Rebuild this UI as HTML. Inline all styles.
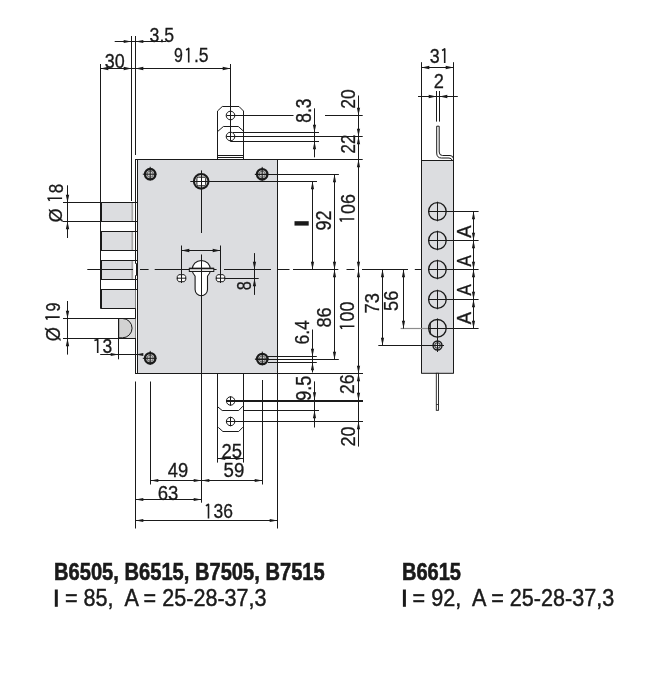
<!DOCTYPE html>
<html><head><meta charset="utf-8"><style>
html,body{margin:0;padding:0;background:#fff;}
svg{display:block;}
text{font-family:"Liberation Sans",sans-serif;fill:#1a1a1a;}
</style></head><body>
<svg width="647" height="677" viewBox="0 0 647 677">
<defs><filter id="gs" x="0" y="0" width="100%" height="100%"><feColorMatrix type="saturate" values="0"/></filter></defs>
<rect width="647" height="677" fill="#fff"/>
<rect x="135.5" y="159.5" width="142" height="214" fill="#fff" stroke="#1a1a1a" stroke-width="1"/>
<rect x="138" y="160" width="139" height="213" fill="#dcdde0"/>
<line x1="137.5" y1="159.5" x2="137.5" y2="373.5" stroke="#1a1a1a" stroke-width="1" />
<path d="M217.5,159 V111 L222.3,106.5 H239 L243.5,111 V159" fill="#fff" stroke="#1a1a1a" stroke-width="1"/>
<path d="M218,131.2 L223.4,126.5 H238.3 L243,130.7" fill="none" stroke="#1a1a1a" stroke-width="1"/>
<line x1="217.5" y1="155.5" x2="243.5" y2="155.5" stroke="#1a1a1a" stroke-width="1" />
<line x1="217.5" y1="157.5" x2="243.5" y2="157.5" stroke="#1a1a1a" stroke-width="1" />
<circle cx="230.5" cy="115.5" r="4.3" stroke="#1a1a1a" stroke-width="1" fill="none"/>
<circle cx="230.5" cy="136.5" r="4.3" stroke="#1a1a1a" stroke-width="1" fill="none"/>
<line x1="217.5" y1="373.5" x2="217.5" y2="462.6" stroke="#1a1a1a" stroke-width="1" />
<line x1="243.5" y1="373.5" x2="243.5" y2="462.6" stroke="#1a1a1a" stroke-width="1" />
<path d="M217.7,406.8 L222.2,410.5 H238.7 L242.9,406.2" fill="none" stroke="#1a1a1a" stroke-width="1"/>
<path d="M218.3,427.4 L222.9,431.5 H238.7 L242.9,427.2" fill="none" stroke="#1a1a1a" stroke-width="1"/>
<circle cx="230.6" cy="401" r="4.2" stroke="#1a1a1a" stroke-width="1" fill="none"/>
<circle cx="230.6" cy="421.5" r="4.2" stroke="#1a1a1a" stroke-width="1" fill="none"/>
<line x1="230.5" y1="396.3" x2="230.5" y2="405.6" stroke="#1a1a1a" stroke-width="1" />
<line x1="230.5" y1="416.8" x2="230.5" y2="426.2" stroke="#1a1a1a" stroke-width="1" />
<line x1="226" y1="401" x2="363" y2="401" stroke="#1a1a1a" stroke-width="2" />
<line x1="243.5" y1="410.5" x2="319" y2="410.5" stroke="#1a1a1a" stroke-width="1" />
<line x1="226" y1="421.5" x2="363" y2="421.5" stroke="#1a1a1a" stroke-width="1" />
<rect x="101" y="202.5" width="31.5" height="19.0" fill="#dcdde0"/>
<line x1="132.3" y1="203.0" x2="132.3" y2="221.0" stroke="#a8a8a8" stroke-width="1.8" />
<line x1="100.5" y1="202.5" x2="137.5" y2="202.5" stroke="#1a1a1a" stroke-width="1" />
<line x1="100.5" y1="221.5" x2="137.5" y2="221.5" stroke="#1a1a1a" stroke-width="1" />
<rect x="101" y="231.5" width="31.5" height="19.0" fill="#dcdde0"/>
<line x1="132.3" y1="232.0" x2="132.3" y2="250.0" stroke="#a8a8a8" stroke-width="1.8" />
<line x1="100.5" y1="231.5" x2="137.5" y2="231.5" stroke="#1a1a1a" stroke-width="1" />
<line x1="100.5" y1="250.5" x2="137.5" y2="250.5" stroke="#1a1a1a" stroke-width="1" />
<rect x="101" y="260.5" width="31.5" height="19.0" fill="#dcdde0"/>
<line x1="132.3" y1="261.0" x2="132.3" y2="279.0" stroke="#a8a8a8" stroke-width="1.8" />
<line x1="100.5" y1="260.5" x2="137.5" y2="260.5" stroke="#1a1a1a" stroke-width="1" />
<line x1="100.5" y1="279.5" x2="137.5" y2="279.5" stroke="#1a1a1a" stroke-width="1" />
<rect x="101" y="289.5" width="34.5" height="19" fill="#dcdde0"/>
<line x1="100.5" y1="289.5" x2="137.5" y2="289.5" stroke="#1a1a1a" stroke-width="1" />
<line x1="100.5" y1="308.5" x2="135.5" y2="308.5" stroke="#1a1a1a" stroke-width="1" />
<line x1="101" y1="202.5" x2="101" y2="221.5" stroke="#1a1a1a" stroke-width="2" />
<line x1="101" y1="231.5" x2="101" y2="250.5" stroke="#1a1a1a" stroke-width="2" />
<line x1="101" y1="260.5" x2="101" y2="279.5" stroke="#1a1a1a" stroke-width="2" />
<line x1="101" y1="289.5" x2="101" y2="308.5" stroke="#1a1a1a" stroke-width="2" />
<rect x="135" y="263.5" width="1.2" height="12" fill="#fff"/>
<path d="M135.5,263.5 H136.5 V275.5 H135.5" fill="none" stroke="#1a1a1a" stroke-width="1"/>
<rect x="119" y="318.5" width="16.5" height="19.5" fill="#dcdcdc" stroke="none"/>
<path d="M118.7,318.5 H122.5 A9.5,9.6 0 0 1 122.5,337.8 H118.7 Z" fill="#d2d2d2" stroke="#1a1a1a" stroke-width="1"/>
<line x1="100.5" y1="64" x2="100.5" y2="308" stroke="#1a1a1a" stroke-width="1" />
<line x1="131.5" y1="36" x2="131.5" y2="201" stroke="#1a1a1a" stroke-width="1" />
<line x1="135.5" y1="36" x2="135.5" y2="155" stroke="#1a1a1a" stroke-width="1" />
<line x1="114.7" y1="41.5" x2="166" y2="41.5" stroke="#1a1a1a" stroke-width="1" />
<polygon points="131.5,41.5 123.7,39.9 123.7,43.1" fill="#1a1a1a"/>
<polygon points="135.5,41.5 143.3,39.9 143.3,43.1" fill="#1a1a1a"/>
<line x1="100.5" y1="68.5" x2="230.5" y2="68.5" stroke="#1a1a1a" stroke-width="1" />
<polygon points="100.5,68.5 108.3,66.8 108.3,70.2" fill="#1a1a1a"/>
<polygon points="131.5,68.5 123.7,66.8 123.7,70.2" fill="#1a1a1a"/>
<polygon points="135.5,68.5 143.3,66.8 143.3,70.2" fill="#1a1a1a"/>
<polygon points="230.5,68.5 222.7,66.8 222.7,70.2" fill="#1a1a1a"/>
<line x1="230.5" y1="64" x2="230.5" y2="141.5" stroke="#1a1a1a" stroke-width="1" />
<path d="M186.10,50.00 L188.70,48.40 V62.60" fill="none" stroke="#1a1a1a" stroke-width="1.6" stroke-linejoin="round"/>
<line x1="226.5" y1="115.5" x2="293.5" y2="115.5" stroke="#1a1a1a" stroke-width="1" />
<line x1="325" y1="115.5" x2="362.7" y2="115.5" stroke="#1a1a1a" stroke-width="1" />
<line x1="233" y1="132.5" x2="319" y2="132.5" stroke="#1a1a1a" stroke-width="1" />
<line x1="226.3" y1="136.5" x2="362.7" y2="136.5" stroke="#1a1a1a" stroke-width="1" />
<line x1="230.5" y1="141.5" x2="319" y2="141.5" stroke="#1a1a1a" stroke-width="1" />
<line x1="277.5" y1="159.5" x2="362.7" y2="159.5" stroke="#1a1a1a" stroke-width="1" />
<line x1="314.5" y1="108.3" x2="314.5" y2="157.3" stroke="#1a1a1a" stroke-width="1" />
<polygon points="314.5,132.5 312.9,124.7 316.1,124.7" fill="#1a1a1a"/>
<polygon points="314.5,141.5 312.9,149.3 316.1,149.3" fill="#1a1a1a"/>
<line x1="358.5" y1="95.5" x2="358.5" y2="446.6" stroke="#1a1a1a" stroke-width="1" />
<polygon points="358.5,115.5 356.9,107.7 360.1,107.7" fill="#1a1a1a"/>
<polygon points="358.5,136.5 356.9,128.7 360.1,128.7" fill="#1a1a1a"/>
<polygon points="358.5,136.5 356.9,144.3 360.1,144.3" fill="#1a1a1a"/>
<polygon points="358.5,159.5 356.9,167.3 360.1,167.3" fill="#1a1a1a"/>
<circle cx="150.2" cy="174.2" r="5.2" stroke="#1a1a1a" stroke-width="2.3" fill="#cfcfcf"/>
<circle cx="150.2" cy="174.2" r="3.1000000000000005" stroke="#555" stroke-width="0.8" fill="none"/>
<line x1="142.79999999999998" y1="174.2" x2="156.6" y2="174.2" stroke="#1a1a1a" stroke-width="1" />
<line x1="150.2" y1="166.79999999999998" x2="150.2" y2="180.6" stroke="#1a1a1a" stroke-width="1" />
<circle cx="262.2" cy="174.3" r="5.2" stroke="#1a1a1a" stroke-width="2.3" fill="#cfcfcf"/>
<circle cx="262.2" cy="174.3" r="3.1000000000000005" stroke="#555" stroke-width="0.8" fill="none"/>
<line x1="254.79999999999998" y1="174.3" x2="268.59999999999997" y2="174.3" stroke="#1a1a1a" stroke-width="1" />
<line x1="262.2" y1="166.9" x2="262.2" y2="180.70000000000002" stroke="#1a1a1a" stroke-width="1" />
<circle cx="150.2" cy="358.3" r="5.2" stroke="#1a1a1a" stroke-width="2.3" fill="#cfcfcf"/>
<circle cx="150.2" cy="358.3" r="3.1000000000000005" stroke="#555" stroke-width="0.8" fill="none"/>
<line x1="142.79999999999998" y1="358.3" x2="156.6" y2="358.3" stroke="#1a1a1a" stroke-width="1" />
<line x1="150.2" y1="350.90000000000003" x2="150.2" y2="364.7" stroke="#1a1a1a" stroke-width="1" />
<circle cx="262.3" cy="359" r="5.2" stroke="#1a1a1a" stroke-width="2.3" fill="#cfcfcf"/>
<circle cx="262.3" cy="359" r="3.1000000000000005" stroke="#555" stroke-width="0.8" fill="none"/>
<line x1="254.9" y1="359" x2="268.7" y2="359" stroke="#1a1a1a" stroke-width="1" />
<line x1="262.3" y1="351.6" x2="262.3" y2="365.4" stroke="#1a1a1a" stroke-width="1" />
<circle cx="201.2" cy="181.3" r="7.3" stroke="#1a1a1a" stroke-width="2.1" fill="#e6e6e6"/>
<rect x="196.9" y="177.2" width="8.8" height="8.6" rx="1.5" fill="#fff" stroke="#1a1a1a" stroke-width="1"/>
<line x1="201.5" y1="170.4" x2="201.5" y2="233" stroke="#1a1a1a" stroke-width="1" />
<line x1="201.5" y1="254.7" x2="201.5" y2="502.7" stroke="#1a1a1a" stroke-width="1" />
<line x1="190.3" y1="181.5" x2="317" y2="181.5" stroke="#1a1a1a" stroke-width="1" />
<line x1="255" y1="174.5" x2="338.9" y2="174.5" stroke="#1a1a1a" stroke-width="1" />
<line x1="312.5" y1="181.5" x2="312.5" y2="269.5" stroke="#1a1a1a" stroke-width="1" />
<polygon points="312.5,181.5 310.9,189.3 314.1,189.3" fill="#1a1a1a"/>
<polygon points="312.5,269.5 310.9,261.7 314.1,261.7" fill="#1a1a1a"/>
<line x1="334.5" y1="174.5" x2="334.5" y2="359.5" stroke="#1a1a1a" stroke-width="1" />
<polygon points="334.5,174.5 332.9,182.3 336.1,182.3" fill="#1a1a1a"/>
<polygon points="334.5,269.5 332.9,261.7 336.1,261.7" fill="#1a1a1a"/>
<polygon points="334.5,269.5 332.9,277.3 336.1,277.3" fill="#1a1a1a"/>
<polygon points="334.5,359.5 332.9,351.7 336.1,351.7" fill="#1a1a1a"/>
<polygon points="358.5,269.5 356.9,261.7 360.1,261.7" fill="#1a1a1a"/>
<polygon points="358.5,269.5 356.9,277.3 360.1,277.3" fill="#1a1a1a"/>
<polygon points="358.5,373.5 356.9,365.7 360.1,365.7" fill="#1a1a1a"/>
<polygon points="358.5,373.5 356.9,381.3 360.1,381.3" fill="#1a1a1a"/>
<polygon points="358.5,400.5 356.9,392.7 360.1,392.7" fill="#1a1a1a"/>
<polygon points="358.5,421.5 356.9,429.3 360.1,429.3" fill="#1a1a1a"/>
<rect x="294.5" y="221.2" width="14.2" height="4.4" fill="#1a1a1a"/>
<path d="M341.70,221.60 L340.10,219.00 H354.30" fill="none" stroke="#1a1a1a" stroke-width="1.6" stroke-linejoin="round"/>
<path d="M342.00,328.90 L340.40,326.30 H354.40" fill="none" stroke="#1a1a1a" stroke-width="1.6" stroke-linejoin="round"/>
<line x1="312.5" y1="329.5" x2="312.5" y2="372.5" stroke="#1a1a1a" stroke-width="1" />
<polygon points="312.5,356.5 310.9,348.7 314.1,348.7" fill="#1a1a1a"/>
<polygon points="312.5,362.5 310.9,370.3 314.1,370.3" fill="#1a1a1a"/>
<line x1="267.8" y1="356.5" x2="316.8" y2="356.5" stroke="#1a1a1a" stroke-width="1" />
<line x1="255.3" y1="359.5" x2="338.8" y2="359.5" stroke="#1a1a1a" stroke-width="1" />
<line x1="267.8" y1="362.5" x2="316.8" y2="362.5" stroke="#1a1a1a" stroke-width="1" />
<line x1="277.5" y1="373.5" x2="363" y2="373.5" stroke="#1a1a1a" stroke-width="1" />
<line x1="314.5" y1="381.4" x2="314.5" y2="427.5" stroke="#1a1a1a" stroke-width="1" />
<polygon points="314.5,400.0 312.9,392.2 316.1,392.2" fill="#1a1a1a"/>
<polygon points="314.5,410.5 312.9,418.3 316.1,418.3" fill="#1a1a1a"/>
<line x1="87.3" y1="269.5" x2="133" y2="269.5" stroke="#1a1a1a" stroke-width="1" />
<line x1="140" y1="269.5" x2="148.6" y2="269.5" stroke="#1a1a1a" stroke-width="1" />
<line x1="154.7" y1="269.5" x2="216.6" y2="269.5" stroke="#1a1a1a" stroke-width="1" />
<line x1="224" y1="269.5" x2="271" y2="269.5" stroke="#1a1a1a" stroke-width="1" />
<line x1="278" y1="269.5" x2="289.5" y2="269.5" stroke="#1a1a1a" stroke-width="1" />
<line x1="293" y1="269.5" x2="338.3" y2="269.5" stroke="#1a1a1a" stroke-width="1" />
<line x1="346.5" y1="269.5" x2="354.6" y2="269.5" stroke="#1a1a1a" stroke-width="1" />
<line x1="362" y1="269.5" x2="407.5" y2="269.5" stroke="#1a1a1a" stroke-width="1" />
<line x1="414.8" y1="269.5" x2="423.8" y2="269.5" stroke="#1a1a1a" stroke-width="1" />
<path d="M195.1,276.2 A9.1,9.1 0 1 1 207.5,276.2 V289.6 A6.2,6.2 0 0 1 195.1,289.6 Z" fill="#fff" stroke="#1a1a1a" stroke-width="1.1"/>
<rect x="189.3" y="268.3" width="24.5" height="3.2" fill="#e8e8e8" stroke="#1a1a1a" stroke-width="1"/>
<line x1="189.3" y1="268.5" x2="213.8" y2="268.5" stroke="#1a1a1a" stroke-width="1.4" />
<line x1="201.5" y1="254.7" x2="201.5" y2="296" stroke="#1a1a1a" stroke-width="1" />
<line x1="181.5" y1="250.5" x2="220.5" y2="250.5" stroke="#1a1a1a" stroke-width="1" />
<polygon points="181.5,250.5 189.3,248.8 189.3,252.2" fill="#1a1a1a"/>
<polygon points="220.5,250.5 212.7,248.8 212.7,252.2" fill="#1a1a1a"/>
<path d="M178.7,274.7 H184.3 L185.7,276.5 V279.9 L184.3,281.7 H178.7 L177.3,279.9 V276.5 Z" fill="#fff" stroke="#1a1a1a" stroke-width="1"/>
<line x1="176.7" y1="278.2" x2="186.3" y2="278.2" stroke="#1a1a1a" stroke-width="1" />
<line x1="181.5" y1="245.5" x2="181.5" y2="283" stroke="#1a1a1a" stroke-width="1" />
<path d="M217.7,274.7 H223.3 L224.7,276.5 V279.9 L223.3,281.7 H217.7 L216.3,279.9 V276.5 Z" fill="#fff" stroke="#1a1a1a" stroke-width="1"/>
<line x1="215.7" y1="278.2" x2="225.3" y2="278.2" stroke="#1a1a1a" stroke-width="1" />
<line x1="220.5" y1="245.5" x2="220.5" y2="283" stroke="#1a1a1a" stroke-width="1" />
<line x1="224.9" y1="278.5" x2="258.7" y2="278.5" stroke="#1a1a1a" stroke-width="1" />
<line x1="254.5" y1="253.1" x2="254.5" y2="294.9" stroke="#1a1a1a" stroke-width="1" />
<polygon points="254.5,269.5 252.8,261.7 256.1,261.7" fill="#1a1a1a"/>
<polygon points="254.5,278.5 252.8,286.3 256.1,286.3" fill="#1a1a1a"/>
<line x1="135.5" y1="381.5" x2="135.5" y2="528.5" stroke="#1a1a1a" stroke-width="1" />
<line x1="150.5" y1="381.5" x2="150.5" y2="484.5" stroke="#1a1a1a" stroke-width="1" />
<line x1="262.5" y1="380" x2="262.5" y2="484.5" stroke="#1a1a1a" stroke-width="1" />
<line x1="277.5" y1="373.5" x2="277.5" y2="528.5" stroke="#1a1a1a" stroke-width="1" />
<line x1="150.5" y1="480.5" x2="262.5" y2="480.5" stroke="#1a1a1a" stroke-width="1" />
<polygon points="150.5,480.5 158.3,478.9 158.3,482.1" fill="#1a1a1a"/>
<polygon points="201.5,480.5 193.7,478.9 193.7,482.1" fill="#1a1a1a"/>
<polygon points="201.5,480.5 209.3,478.9 209.3,482.1" fill="#1a1a1a"/>
<polygon points="262.5,480.5 254.7,478.9 254.7,482.1" fill="#1a1a1a"/>
<line x1="135.5" y1="499.5" x2="201.5" y2="499.5" stroke="#1a1a1a" stroke-width="1" />
<polygon points="135.5,499.5 143.3,497.9 143.3,501.1" fill="#1a1a1a"/>
<polygon points="201.5,499.5 193.7,497.9 193.7,501.1" fill="#1a1a1a"/>
<line x1="135.5" y1="520.5" x2="277.5" y2="520.5" stroke="#1a1a1a" stroke-width="1" />
<polygon points="135.5,520.5 143.3,518.9 143.3,522.1" fill="#1a1a1a"/>
<polygon points="277.5,520.5 269.7,518.9 269.7,522.1" fill="#1a1a1a"/>
<line x1="217.5" y1="458.5" x2="243.5" y2="458.5" stroke="#1a1a1a" stroke-width="1" />
<polygon points="217.5,458.5 225.3,456.9 225.3,460.1" fill="#1a1a1a"/>
<polygon points="243.5,458.5 235.7,456.9 235.7,460.1" fill="#1a1a1a"/>
<path d="M205.90,505.90 L208.50,504.30 V518.50" fill="none" stroke="#1a1a1a" stroke-width="1.6" stroke-linejoin="round"/>
<line x1="63" y1="202.5" x2="100.5" y2="202.5" stroke="#1a1a1a" stroke-width="1" />
<line x1="63" y1="221.5" x2="100.5" y2="221.5" stroke="#1a1a1a" stroke-width="1" />
<line x1="67.5" y1="185.3" x2="67.5" y2="238" stroke="#1a1a1a" stroke-width="1" />
<polygon points="67.5,202.5 65.8,194.7 69.2,194.7" fill="#1a1a1a"/>
<polygon points="67.5,221.5 65.8,229.3 69.2,229.3" fill="#1a1a1a"/>
<path d="M49.60,200.80 L48.00,198.20 H62.10" fill="none" stroke="#1a1a1a" stroke-width="1.6" stroke-linejoin="round"/>
<line x1="63" y1="318.5" x2="135.5" y2="318.5" stroke="#1a1a1a" stroke-width="1" />
<line x1="63" y1="338.5" x2="135.5" y2="338.5" stroke="#1a1a1a" stroke-width="1" />
<line x1="67.5" y1="301" x2="67.5" y2="354.6" stroke="#1a1a1a" stroke-width="1" />
<polygon points="67.5,318.5 65.8,310.7 69.2,310.7" fill="#1a1a1a"/>
<polygon points="67.5,338.5 65.8,346.3 69.2,346.3" fill="#1a1a1a"/>
<path d="M47.40,319.70 L45.80,317.10 H59.70" fill="none" stroke="#1a1a1a" stroke-width="1.6" stroke-linejoin="round"/>
<line x1="118.5" y1="318.5" x2="118.5" y2="359.3" stroke="#1a1a1a" stroke-width="1" />
<line x1="100.2" y1="354.5" x2="140.7" y2="354.5" stroke="#1a1a1a" stroke-width="1" />
<polygon points="118.5,354.5 110.7,352.9 110.7,356.1" fill="#1a1a1a"/>
<polygon points="135.5,354.5 143.3,352.9 143.3,356.1" fill="#1a1a1a"/>
<path d="M94.40,340.50 L97.70,339.50 V353.00" fill="none" stroke="#1a1a1a" stroke-width="1.6" stroke-linejoin="round"/>
<rect x="421.5" y="160.5" width="32" height="213" fill="#dcdde0" stroke="none"/>
<line x1="421.5" y1="62.2" x2="421.5" y2="373.5" stroke="#1a1a1a" stroke-width="1" />
<line x1="453.5" y1="62.2" x2="453.5" y2="373.5" stroke="#1a1a1a" stroke-width="1" />
<line x1="421.5" y1="160.5" x2="453.5" y2="160.5" stroke="#1a1a1a" stroke-width="1" />
<line x1="421.5" y1="373.3" x2="453.5" y2="373.3" stroke="#1a1a1a" stroke-width="1" />
<line x1="421.5" y1="67.5" x2="453.5" y2="67.5" stroke="#1a1a1a" stroke-width="1" />
<polygon points="421.5,67.5 429.3,65.8 429.3,69.2" fill="#1a1a1a"/>
<polygon points="453.5,67.5 445.7,65.8 445.7,69.2" fill="#1a1a1a"/>
<path d="M442.10,50.50 L444.70,48.90 V63.00" fill="none" stroke="#1a1a1a" stroke-width="1.6" stroke-linejoin="round"/>
<line x1="418" y1="96.5" x2="457.8" y2="96.5" stroke="#1a1a1a" stroke-width="1" />
<polygon points="436.5,96.5 428.7,94.8 428.7,98.2" fill="#1a1a1a"/>
<polygon points="439.5,96.5 447.3,94.8 447.3,98.2" fill="#1a1a1a"/>
<line x1="436.5" y1="91" x2="436.5" y2="121.6" stroke="#1a1a1a" stroke-width="1" />
<line x1="439.5" y1="91" x2="439.5" y2="121.6" stroke="#1a1a1a" stroke-width="1" />
<path d="M436.7,126.2 H439.2 M436.7,126.2 V153 Q436.7,158 441.5,158 H449 Q451.5,158 452.3,160.5 M439.2,126.2 V152 Q439.2,155.5 442.5,155.5 H450 Q452.8,155.5 453.5,158.5" fill="none" stroke="#1a1a1a" stroke-width="1"/>
<circle cx="437.4" cy="211.5" r="8.8" stroke="#1a1a1a" stroke-width="1.3" fill="none"/>
<line x1="437.5" y1="201.7" x2="437.5" y2="221.3" stroke="#1a1a1a" stroke-width="1" />
<line x1="428" y1="211.5" x2="478.6" y2="211.5" stroke="#1a1a1a" stroke-width="1" />
<circle cx="437.4" cy="240.5" r="8.8" stroke="#1a1a1a" stroke-width="1.3" fill="none"/>
<line x1="437.5" y1="230.7" x2="437.5" y2="250.3" stroke="#1a1a1a" stroke-width="1" />
<line x1="428" y1="240.5" x2="478.6" y2="240.5" stroke="#1a1a1a" stroke-width="1" />
<circle cx="437.4" cy="269.5" r="8.8" stroke="#1a1a1a" stroke-width="1.3" fill="none"/>
<line x1="437.5" y1="259.7" x2="437.5" y2="279.3" stroke="#1a1a1a" stroke-width="1" />
<line x1="428" y1="269.5" x2="478.6" y2="269.5" stroke="#1a1a1a" stroke-width="1" />
<circle cx="437.4" cy="299.5" r="8.8" stroke="#1a1a1a" stroke-width="1.3" fill="none"/>
<line x1="437.5" y1="289.7" x2="437.5" y2="309.3" stroke="#1a1a1a" stroke-width="1" />
<line x1="428" y1="299.5" x2="478.6" y2="299.5" stroke="#1a1a1a" stroke-width="1" />
<circle cx="437.4" cy="328.3" r="8.8" stroke="#1a1a1a" stroke-width="1.3" fill="none"/>
<line x1="437.5" y1="318.5" x2="437.5" y2="338.1" stroke="#1a1a1a" stroke-width="1" />
<line x1="428" y1="328.5" x2="478.6" y2="328.5" stroke="#1a1a1a" stroke-width="1" />
<line x1="400.6" y1="328.5" x2="428" y2="328.5" stroke="#8c8c8c" stroke-width="1.2" />
<line x1="430.2" y1="322.4" x2="430.2" y2="334.4" stroke="#1a1a1a" stroke-width="1.2" />
<circle cx="437.5" cy="345.5" r="4.5" stroke="#1a1a1a" stroke-width="1.4" fill="none"/>
<circle cx="437.5" cy="345.5" r="2.8" stroke="#1a1a1a" stroke-width="0.9" fill="none"/>
<line x1="437.5" y1="338" x2="437.5" y2="352" stroke="#1a1a1a" stroke-width="1" />
<line x1="378.3" y1="345.5" x2="444" y2="345.5" stroke="#1a1a1a" stroke-width="1" />
<line x1="473.5" y1="211.5" x2="473.5" y2="328.5" stroke="#1a1a1a" stroke-width="1" />
<polygon points="473.5,211.5 471.9,219.3 475.1,219.3" fill="#1a1a1a"/>
<polygon points="473.5,240.5 471.9,232.7 475.1,232.7" fill="#1a1a1a"/>
<polygon points="473.5,240.5 471.9,248.3 475.1,248.3" fill="#1a1a1a"/>
<polygon points="473.5,269.5 471.9,261.7 475.1,261.7" fill="#1a1a1a"/>
<polygon points="473.5,269.5 471.9,277.3 475.1,277.3" fill="#1a1a1a"/>
<polygon points="473.5,299.5 471.9,291.7 475.1,291.7" fill="#1a1a1a"/>
<polygon points="473.5,299.5 471.9,307.3 475.1,307.3" fill="#1a1a1a"/>
<polygon points="473.5,328.5 471.9,320.7 475.1,320.7" fill="#1a1a1a"/>
<rect x="436.3" y="373.3" width="2.2" height="37" fill="#fff" stroke="#1a1a1a" stroke-width="0.9"/>
<line x1="436.3" y1="404.5" x2="438.5" y2="404.5" stroke="#1a1a1a" stroke-width="0.8" />
<line x1="373.7" y1="269.5" x2="408" y2="269.5" stroke="#1a1a1a" stroke-width="1" />
<line x1="382.5" y1="269.5" x2="382.5" y2="345.5" stroke="#1a1a1a" stroke-width="1" />
<polygon points="382.5,269.5 380.9,277.3 384.1,277.3" fill="#1a1a1a"/>
<polygon points="382.5,345.5 380.9,337.7 384.1,337.7" fill="#1a1a1a"/>
<line x1="403.5" y1="269.5" x2="403.5" y2="328.5" stroke="#1a1a1a" stroke-width="1" />
<polygon points="403.5,269.5 401.9,277.3 405.1,277.3" fill="#1a1a1a"/>
<polygon points="403.5,328.5 401.9,320.7 405.1,320.7" fill="#1a1a1a"/>
<rect x="54.8" y="589.5" width="3" height="17.3" fill="#1a1a1a"/>
<rect x="402.9" y="589.5" width="3" height="17.3" fill="#1a1a1a"/>
<g filter="url(#gs)"><text transform="translate(149.59,41.80) scale(0.8855,1.0141)" font-size="20" font-weight="normal" stroke="#1a1a1a" stroke-width="0.3" xml:space="preserve">3.5</text>
<text transform="translate(104.78,67.79) scale(0.8981,1.0282)" font-size="20" font-weight="normal" stroke="#1a1a1a" stroke-width="0.3" xml:space="preserve">30</text>
<text transform="translate(174.08,62.40) scale(0.7957,1.0000)" font-size="20" font-weight="normal" stroke="#1a1a1a" stroke-width="0.3" xml:space="preserve">9</text>
<text transform="translate(193.92,62.40) scale(0.8794,1.0143)" font-size="20" font-weight="normal" stroke="#1a1a1a" stroke-width="0.3" xml:space="preserve">.5</text>
<text transform="translate(311.47,122.79) rotate(-90) scale(0.8731,1.1408)" font-size="20" font-weight="normal" stroke="#1a1a1a" stroke-width="0.3" xml:space="preserve">8.3</text>
<text transform="translate(354.79,108.67) rotate(-90) scale(0.8725,1.0352)" font-size="20" font-weight="normal" stroke="#1a1a1a" stroke-width="0.3" xml:space="preserve">20</text>
<text transform="translate(355.00,153.44) rotate(-90) scale(0.8416,1.0500)" font-size="20" font-weight="normal" stroke="#1a1a1a" stroke-width="0.3" xml:space="preserve">22</text>
<text transform="translate(331.09,230.61) rotate(-90) scale(0.9015,1.0634)" font-size="20" font-weight="normal" stroke="#1a1a1a" stroke-width="0.3" xml:space="preserve">92</text>
<text transform="translate(354.69,214.01) rotate(-90) scale(0.8927,1.0423)" font-size="20" font-weight="normal" stroke="#1a1a1a" stroke-width="0.3" xml:space="preserve">06</text>
<text transform="translate(330.99,327.62) rotate(-90) scale(0.9118,1.0352)" font-size="20" font-weight="normal" stroke="#1a1a1a" stroke-width="0.3" xml:space="preserve">86</text>
<text transform="translate(354.40,321.51) rotate(-90) scale(0.8932,1.0211)" font-size="20" font-weight="normal" stroke="#1a1a1a" stroke-width="0.3" xml:space="preserve">00</text>
<text transform="translate(308.80,344.58) rotate(-90) scale(0.8817,1.0000)" font-size="20" font-weight="normal" stroke="#1a1a1a" stroke-width="0.3" xml:space="preserve">6.4</text>
<text transform="translate(311.49,400.81) rotate(-90) scale(0.9004,1.0634)" font-size="20" font-weight="normal" stroke="#1a1a1a" stroke-width="0.3" xml:space="preserve">9.5</text>
<text transform="translate(354.49,393.88) rotate(-90) scale(0.8768,1.0352)" font-size="20" font-weight="normal" stroke="#1a1a1a" stroke-width="0.3" xml:space="preserve">26</text>
<text transform="translate(354.50,446.51) rotate(-90) scale(0.9069,0.9789)" font-size="20" font-weight="normal" stroke="#1a1a1a" stroke-width="0.3" xml:space="preserve">20</text>
<text transform="translate(250.70,290.33) rotate(-90) scale(0.8085,1.0141)" font-size="20" font-weight="normal" stroke="#1a1a1a" stroke-width="0.3" xml:space="preserve">8</text>
<text transform="translate(167.74,477.20) scale(0.9183,0.9859)" font-size="20" font-weight="normal" stroke="#1a1a1a" stroke-width="0.3" xml:space="preserve">49</text>
<text transform="translate(223.55,477.20) scale(0.9317,0.9859)" font-size="20" font-weight="normal" stroke="#1a1a1a" stroke-width="0.3" xml:space="preserve">59</text>
<text transform="translate(157.77,499.70) scale(0.9261,0.9789)" font-size="20" font-weight="normal" stroke="#1a1a1a" stroke-width="0.3" xml:space="preserve">63</text>
<text transform="translate(213.50,518.39) scale(0.8732,1.0282)" font-size="20" font-weight="normal" stroke="#1a1a1a" stroke-width="0.3" xml:space="preserve">36</text>
<text transform="translate(221.48,457.60) scale(0.9216,0.9859)" font-size="20" font-weight="normal" stroke="#1a1a1a" stroke-width="0.3" xml:space="preserve">25</text>
<text transform="translate(62.69,193.17) rotate(-90) scale(0.8511,1.0493)" font-size="20" font-weight="normal" stroke="#1a1a1a" stroke-width="0.3" xml:space="preserve">8</text>
<text transform="translate(61.63,222.31) rotate(-90) scale(0.8857,0.9463)" font-size="20" font-weight="normal" stroke="#1a1a1a" stroke-width="0.3" xml:space="preserve">Ø</text>
<text transform="translate(59.70,311.53) rotate(-90) scale(0.8065,0.9930)" font-size="20" font-weight="normal" stroke="#1a1a1a" stroke-width="0.3" xml:space="preserve">9</text>
<text transform="translate(59.72,341.23) rotate(-90) scale(0.9143,0.9664)" font-size="20" font-weight="normal" stroke="#1a1a1a" stroke-width="0.3" xml:space="preserve">Ø</text>
<text transform="translate(102.40,353.20) scale(0.8723,1.0000)" font-size="20" font-weight="normal" stroke="#1a1a1a" stroke-width="0.3" xml:space="preserve">3</text>
<text transform="translate(429.69,62.99) scale(0.8936,1.0352)" font-size="20" font-weight="normal" stroke="#1a1a1a" stroke-width="0.3" xml:space="preserve">3</text>
<text transform="translate(433.69,87.80) scale(0.9121,0.9929)" font-size="20" font-weight="normal" stroke="#1a1a1a" stroke-width="0.3" xml:space="preserve">2</text>
<text transform="translate(471.00,237.79) rotate(-90) scale(0.9242,1.0507)" font-size="20" font-weight="normal" stroke="#1a1a1a" stroke-width="0.3" xml:space="preserve">A</text>
<text transform="translate(471.00,266.58) rotate(-90) scale(0.8409,1.0507)" font-size="20" font-weight="normal" stroke="#1a1a1a" stroke-width="0.3" xml:space="preserve">A</text>
<text transform="translate(471.00,295.38) rotate(-90) scale(0.8409,1.0507)" font-size="20" font-weight="normal" stroke="#1a1a1a" stroke-width="0.3" xml:space="preserve">A</text>
<text transform="translate(471.00,324.19) rotate(-90) scale(0.9167,1.0507)" font-size="20" font-weight="normal" stroke="#1a1a1a" stroke-width="0.3" xml:space="preserve">A</text>
<text transform="translate(378.79,313.52) rotate(-90) scale(0.9212,1.0563)" font-size="20" font-weight="normal" stroke="#1a1a1a" stroke-width="0.3" xml:space="preserve">73</text>
<text transform="translate(398.00,310.93) rotate(-90) scale(0.9122,1.0070)" font-size="20" font-weight="normal" stroke="#1a1a1a" stroke-width="0.3" xml:space="preserve">56</text>
<text transform="translate(53.99,580.20) scale(1.0067,1.1929)" font-size="20" font-weight="bold" stroke="#1a1a1a" stroke-width="0.5" xml:space="preserve">B6505, B6515, B7505, B7515</text>
<text transform="translate(401.90,580.20) scale(1.0035,1.1929)" font-size="20" font-weight="bold" stroke="#1a1a1a" stroke-width="0.5" xml:space="preserve">B6615</text>
<text transform="translate(65.02,606.00) scale(1.0795,1.1500)" font-size="20" font-weight="normal" stroke="#1a1a1a" stroke-width="0.4" xml:space="preserve">= 85,  A = 25-28-37,3</text>
<text transform="translate(412.62,606.00) scale(1.0790,1.1500)" font-size="20" font-weight="normal" stroke="#1a1a1a" stroke-width="0.4" xml:space="preserve">= 92,  A = 25-28-37,3</text></g>
</svg>
</body></html>
